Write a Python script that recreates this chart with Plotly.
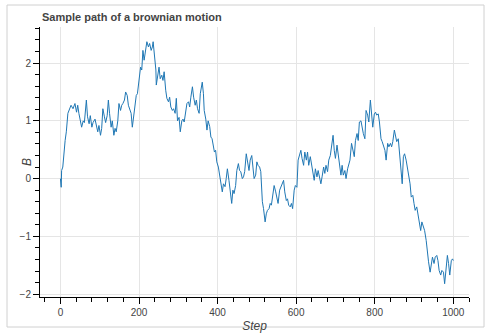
import plotly.graph_objects as go

steps = [0, 2, 3, 6, 12, 15, 19, 22, 27, 32, 37, 41, 44, 47, 51, 54, 58, 61, 66, 69,
         73, 76, 80, 83, 88, 92, 95, 98, 102, 105, 108, 112, 115, 119, 122, 125, 129, 132, 136, 139,
         142, 146, 149, 153, 156, 159, 163, 166, 170, 173, 176, 180, 183, 186, 190, 193, 196, 200, 204, 207,
         210, 213, 217, 220, 224, 227, 231, 234, 236, 239, 243, 244, 247, 251, 254, 258, 261, 264, 268, 271,
         275, 278, 281, 285, 288, 292, 295, 298, 302, 305, 309, 312, 315, 319, 322, 326, 329, 332, 336, 339,
         343, 346, 349, 353, 356, 361, 364, 366, 370, 373, 376, 380, 383, 386, 389, 392, 395, 398, 402, 405,
         408, 412, 415, 419, 422, 425, 429, 432, 436, 439, 442, 446, 449, 453, 456, 459, 463, 466, 469, 473,
         476, 480, 483, 487, 490, 493, 497, 500, 503, 507, 510, 514, 517, 521, 524, 527, 531, 534, 537, 541,
         544, 548, 551, 554, 558, 561, 564, 568, 571, 575, 578, 581, 585, 588, 591, 595, 598, 602, 605, 609,
         612, 615, 619, 622, 626, 629, 632, 636, 639, 643, 646, 649, 653, 656, 659, 663, 666, 670, 673, 676,
         680, 683, 687, 690, 694, 697, 700, 704, 707, 710, 714, 717, 720, 724, 727, 731, 734, 737, 741, 744,
         748, 751, 755, 758, 761, 765, 768, 771, 775, 778, 782, 785, 789, 792, 795, 799, 802, 805, 809, 812,
         816, 819, 823, 826, 829, 833, 836, 840, 843, 846, 850, 853, 856, 860, 863, 867, 870, 873, 876, 880,
         883, 887, 890, 893, 897, 900, 903, 907, 910, 914, 917, 920, 924, 927, 931, 934, 937, 941, 944, 947,
         951, 954, 958, 961, 964, 968, 971, 975, 978, 981, 985, 988, 991, 995, 998, 1000]

B = [0.0, -0.15, 0.14, 0.2, 0.66, 0.81, 1.13, 1.18, 1.27, 1.21, 1.3, 1.15, 1.27, 1.13, 1.0, 0.89, 1.0, 0.97, 1.36, 1.07,
     0.95, 1.09, 0.89, 0.97, 1.03, 0.89, 0.81, 0.92, 0.75, 0.87, 1.21, 1.07, 0.97, 1.09, 1.36, 1.13, 0.89, 1.0, 0.75, 0.87,
     0.81, 1.0, 1.3, 1.18, 1.27, 1.3, 1.36, 1.5, 1.44, 1.27, 1.21, 1.13, 0.89, 1.09, 1.3, 1.44, 1.47, 1.67, 1.93, 1.88,
     2.22, 2.05, 2.25, 2.37, 2.28, 2.34, 2.22, 2.28, 2.37, 2.17, 1.88, 1.62, 1.76, 1.93, 1.73, 1.79, 1.7, 1.85, 1.53, 1.39,
     1.33, 1.41, 1.24, 1.18, 1.21, 1.13, 1.39, 1.0, 1.06, 0.81, 1.0, 1.03, 0.98, 1.15, 1.3, 1.33, 1.24, 1.41, 1.59, 1.41,
     1.27, 1.36, 1.21, 1.13, 1.47, 1.67, 1.47, 1.18, 1.03, 0.84, 1.0, 0.9, 0.72, 0.69, 0.6, 0.46, 0.49, 0.29, 0.2, 0.06,
     -0.05, -0.23, -0.09, -0.14, 0.0, 0.17, -0.03, -0.23, -0.43, -0.2, -0.26, -0.12, 0.14, 0.26, 0.14, 0.12, 0.0, 0.03, 0.12, 0.43,
     0.29, 0.14, 0.32, 0.4, 0.2, 0.0, 0.06, 0.29, 0.23, 0.2, 0.12, -0.4, -0.52, -0.75, -0.61, -0.55, -0.52, -0.43, -0.46, -0.26,
     -0.12, -0.23, -0.35, -0.43, -0.2, -0.14, -0.09, -0.03, -0.23, -0.38, -0.35, -0.46, -0.49, -0.43, -0.52, -0.2, -0.12, -0.15, 0.32, 0.4,
     0.49, 0.35, 0.23, 0.46, 0.32, 0.46, 0.23, 0.38, 0.26, 0.12, -0.03, 0.17, 0.03, 0.14, 0.06, -0.09, 0.03, 0.2, 0.09, 0.23,
     0.12, 0.32, 0.4, 0.58, 0.75, 0.49, 0.35, 0.58, 0.4, 0.26, 0.06, 0.23, 0.06, 0.14, 0.0, 0.17, 0.23, 0.32, 0.61, 0.52,
     0.38, 0.66, 0.78, 0.66, 0.98, 1.0, 0.87, 0.78, 0.69, 1.18, 1.1, 0.98, 1.36, 1.18, 0.89, 1.12, 1.15, 1.1, 1.12, 0.98,
     0.69, 0.64, 0.55, 0.49, 0.32, 0.61, 0.55, 0.61, 0.55, 0.64, 0.84, 0.75, 0.64, 0.69, 0.46, 0.14, -0.09, 0.38, 0.43, 0.32,
     0.2, 0.0, -0.09, -0.32, -0.29, -0.43, -0.55, -0.49, -0.61, -0.78, -0.9, -0.75, -0.84, -0.9, -1.07, -1.3, -1.44, -1.62, -1.47, -1.36,
     -1.47, -1.36, -1.33, -1.42, -1.59, -1.67, -1.59, -1.62, -1.82, -1.59, -1.33, -1.47, -1.67, -1.42, -1.39, -1.42]

x_ticks = [0, 200, 400, 600, 800, 1000]
y_ticks = [-2, -1, 0, 1, 2]

W, H = 492, 333
L, R, T, Bm = 40, 23, 27, 36
PW, PH = W - L - R, H - T - Bm
FONT = "Liberation Sans, Arial, sans-serif"

fig = go.Figure(go.Scatter(x=steps, y=B, mode="lines",
                           line=dict(color="#1f77b4", width=1)))

axis_common = dict(
    automargin=False,
    showgrid=True, gridcolor="#e5e5e5", gridwidth=1, zeroline=False,
    showline=True, linecolor="#000000", linewidth=1,
    ticks="outside", ticklen=6, tickcolor="#000000", tickwidth=1,
    tickfont=dict(family=FONT, size=10, color="#444444"),
)

fig.update_xaxes(range=[-52, 1040], tickvals=x_ticks,
                 minor=dict(ticks="outside", ticklen=4, dtick=40, tick0=0, tickcolor="#000000", showgrid=False),
                 title=dict(text="Step", font=dict(family=FONT, size=12, color="#444444", style="italic"),
                            standoff=6),
                 **axis_common)
fig.update_yaxes(range=[-2.05, 2.625], tickvals=y_ticks,
                 minor=dict(ticks="outside", ticklen=4, dtick=0.2, tick0=0, tickcolor="#000000", showgrid=False),
                 **axis_common)

fig.update_layout(
    width=W, height=H,
    margin=dict(l=L, r=R, t=T, b=Bm, pad=0),
    paper_bgcolor="white", plot_bgcolor="white",
    showlegend=False,
    annotations=[
        dict(text="<b>Sample path of a brownian motion</b>", xref="paper", yref="paper",
             x=(40 - L) / PW, y=(H - Bm - 17) / PH, xanchor="left", yanchor="middle",
             showarrow=False, font=dict(family=FONT, size=11, color="#444444")),
        dict(text="B", textangle=-90, xref="paper", yref="paper",
             x=(27 - L) / PW, y=(H - Bm - 162) / PH, xanchor="center", yanchor="middle",
             showarrow=False, font=dict(family=FONT, size=12, color="#444444", style="italic")),
    ],
    shapes=[dict(type="rect", xref="paper", yref="paper",
                 x0=(7 - L) / PW, x1=(484 - L) / PW,
                 y0=(H - Bm - 327) / PH, y1=(H - Bm - 5) / PH,
                 line=dict(color="#d0d0d0", width=1), fillcolor="rgba(0,0,0,0)", layer="below")],
)

fig.write_html("out.html", config={"displayModeBar": False},
               post_script="document.body.style.margin='0';document.body.style.overflow='hidden';")
